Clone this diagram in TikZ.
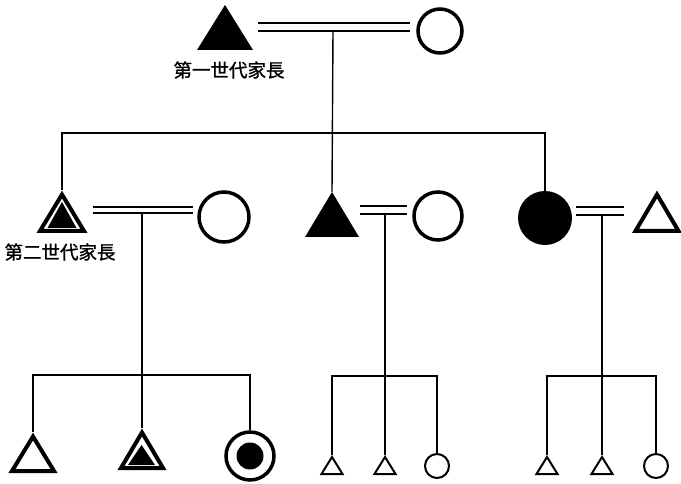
\documentclass[tikz,border=0pt]{standalone}
\usepackage{fontspec}
\newfontfamily\cjk[FakeBold=1.2]{Noto Sans CJK TC}
% triangle path: apex coordinate, half width, height
\newcommand\tripath[3]{(#1) -- ++(-#2,#3) -- ++(2*#2,0) -- cycle}
\begin{document}
\begin{tikzpicture}[x=1pt,y=-1pt,
  link/.style={line width=1.4pt},
  heavy/.style={line width=4pt, line join=miter},
  lighttri/.style={line width=2pt, line join=miter},
  ring/.style={circle, draw, line width=3.5pt, inner sep=0pt},
  smallring/.style={circle, draw, line width=2pt, inner sep=0pt, minimum size=24pt},
  disc/.style={circle, fill=black, inner sep=0pt},
  titletext/.style={font=\cjk\fontsize{18.5}{20}\selectfont, inner sep=0pt}]
\useasboundingbox (0,0) rectangle (681,484);

% ---------- first generation ----------
\coordinate (g1m) at (225,5);
\fill \tripath{g1m}{28}{45};
\node[ring, minimum size=44pt] (g1w) at (440,31) {};
\node[titletext] (t1) at (229,70) {第一世代家長};
\coordinate (m1a) at (258,23); \coordinate (m1b) at (410,23);
\coordinate (m1c) at (258,31); \coordinate (m1d) at (410,31);
\draw[link] (m1a) -- (m1b) (m1c) -- (m1d);
\coordinate (u1) at (333,31);
\coordinate (s1) at (333,133);

% ---------- second generation ----------
% eldest son (household head)
\coordinate (g2a) at (62,190);
\coordinate (g2ai) at (62,194.5);
\draw[heavy] \tripath{g2ai}{22}{36.5};
\coordinate (g2ac) at (62,202);
\fill \tripath{g2ac}{14.5}{26};
\node[titletext] (t2) at (60,252) {第二世代家長};
\node[ring, minimum size=50pt] (g2aw) at (224,217) {};
\coordinate (m2a) at (93,207); \coordinate (m2b) at (193,207);
\coordinate (m2c) at (93,213); \coordinate (m2d) at (193,213);
\draw[link] (m2a) -- (m2b) (m2c) -- (m2d);
\coordinate (u2a) at (142,213);
\coordinate (s2a) at (142,375);

% second son
\coordinate (g2b) at (332,192);
\fill \tripath{g2b}{27}{45};
\node[ring, minimum size=48pt] (g2bw) at (438,216) {};
\coordinate (m3a) at (360,206); \coordinate (m3b) at (407,206);
\coordinate (m3c) at (360,214); \coordinate (m3d) at (407,214);
\draw[link] (m3a) -- (m3b) (m3c) -- (m3d);
\coordinate (u2b) at (385,214);
\coordinate (s2b) at (385,376);

% daughter and her husband
\node[disc, minimum size=54pt] (g2c) at (545,218) {};
\coordinate (g2ch) at (657,194.5);
\draw[heavy] \tripath{g2ch}{21.5}{36.5};
\coordinate (m4a) at (576,207); \coordinate (m4b) at (624,207);
\coordinate (m4c) at (576,215); \coordinate (m4d) at (624,215);
\draw[link] (m4a) -- (m4b) (m4c) -- (m4d);
\coordinate (u2c) at (602,215);
\coordinate (s2c) at (602,376);

% sibling bar of the second generation
\draw[link] (u1) -- (g2b);
\draw[link] (g2a) |- (s1) -| (g2c.north);

% ---------- third generation ----------
% children of the eldest son
\coordinate (g3a1) at (33,432);
\coordinate (g3a1i) at (33,436.5);
\draw[heavy] \tripath{g3a1i}{21}{34.5};
\coordinate (g3a2) at (142,428);
\coordinate (g3a2i) at (142,432.5);
\draw[heavy] \tripath{g3a2i}{21}{35.5};
\coordinate (g3a2c) at (141.5,445);
\fill \tripath{g3a2c}{13.5}{20};
\node[ring, minimum size=48pt] (g3a3) at (250,456) {};
\node[disc, minimum size=27pt] (g3a3d) at (g3a3) {};
\draw[link] (u2a) -- (g3a2);
\draw[link] (g3a1) |- (s2a) -| (g3a3.north);

% children of the second son
\coordinate (g3b1) at (332,455);
\coordinate (g3b1i) at (332,457);
\draw[lighttri] \tripath{g3b1i}{10.5}{17};
\coordinate (g3b2) at (385,455);
\coordinate (g3b2i) at (385,457);
\draw[lighttri] \tripath{g3b2i}{10.5}{17};
\node[smallring] (g3b3) at (437,466) {};
\draw[link] (u2b) -- (g3b2);
\draw[link] (g3b1) |- (s2b) -| (g3b3.north);

% children of the daughter
\coordinate (g3c1) at (547,455);
\coordinate (g3c1i) at (547,457);
\draw[lighttri] \tripath{g3c1i}{10.5}{17};
\coordinate (g3c2) at (602,455);
\coordinate (g3c2i) at (602,457);
\draw[lighttri] \tripath{g3c2i}{10.5}{17};
\node[smallring] (g3c3) at (656,466) {};
\draw[link] (u2c) -- (g3c2);
\draw[link] (g3c1) |- (s2c) -| (g3c3.north);
\end{tikzpicture}
\end{document}
